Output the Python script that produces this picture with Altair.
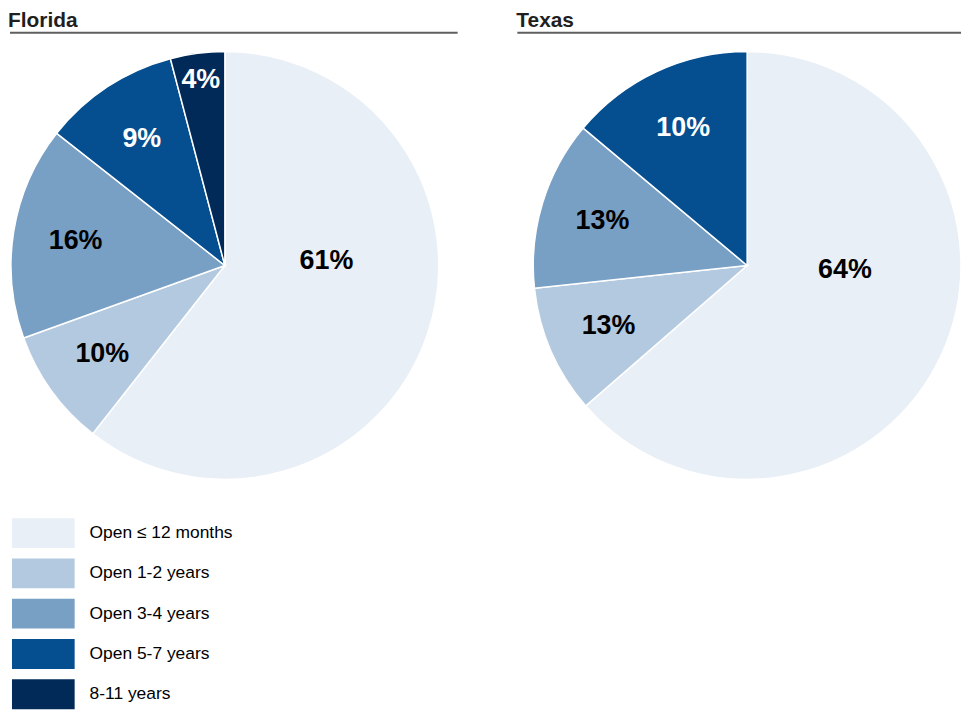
import altair as alt
import pandas as pd

FONT = "Liberation Sans, Arial, sans-serif"

categories = ["Open ≤ 12 months", "Open 1-2 years", "Open 3-4 years", "Open 5-7 years", "8-11 years"]
colors = ["#E9EFF6", "#B3C9DF", "#789FC4", "#054F91", "#022A58"]

# slice sizes as drawn, and the printed labels
florida_share = [60.6, 8.9, 16.1, 10.3, 4.1]
florida_label = ["61%", "10%", "16%", "9%", "4%"]
texas_share = [63.6, 9.7, 12.8, 13.9]
texas_label = ["64%", "13%", "13%", "10%"]

color_scale = alt.Scale(domain=categories, range=colors)


def panel(title, shares, labels, cx, w):
    n = len(shares)
    df = pd.DataFrame({"cat": categories[:n], "idx": list(range(n)),
                       "share": shares, "label": labels})
    base = alt.Chart(df).encode(
        theta=alt.Theta("share:Q", stack=True),
        order=alt.Order("idx:Q"),
        x=alt.value(cx), y=alt.value(234),
    )
    arcs = base.mark_arc(outerRadius=215, stroke="white", strokeWidth=1.5).encode(
        color=alt.Color("cat:N", scale=color_scale, legend=None)
    )
    tb = (alt.Chart(df)
          .transform_joinaggregate(total="sum(share)")
          .transform_window(cum="sum(share)", sort=[alt.SortField("idx")], frame=[None, 0])
          .transform_calculate(mid="(datum.cum - datum.share/2)/datum.total*2*PI"))
    tcol = alt.condition("datum.idx >= 3", alt.value("white"), alt.value("black"))
    enc = dict(theta=alt.Theta("mid:Q", scale=None), x=alt.value(cx), y=alt.value(234),
               text="label:N", color=tcol)
    kw = dict(font=FONT, fontSize=27, fontWeight="bold", align="center", baseline="middle")
    big = tb.transform_filter("datum.idx == 0").mark_text(radius=108, dy=-40, **kw).encode(**enc)
    tiny = tb.transform_filter("datum.idx > 0 && datum.share < 6").mark_text(radius=188, **kw).encode(**enc)
    mid = tb.transform_filter("datum.idx > 0 && datum.share >= 6").mark_text(radius=152, **kw).encode(**enc)
    rule = alt.Chart(pd.DataFrame({"a": [0]})).mark_rule(color="#5f5f5f", strokeWidth=2).encode(
        x=alt.value(0), x2=alt.value(w), y=alt.value(0)
    )
    return alt.layer(rule, arcs, big, mid, tiny).properties(
        width=w, height=468,
        title=alt.Title(title, anchor="start", fontSize=21, font=FONT, fontWeight="bold",
                        color="#1f1f1f", offset=1),
    )


fl = panel("Florida", florida_share, florida_label, 216, 450)
tx = panel("Texas", texas_share, texas_label, 231, 446)

leg_df = pd.DataFrame({"cat": categories})
leg_base = alt.Chart(leg_df).encode(
    y=alt.Y("cat:N", sort=categories, axis=None,
            scale=alt.Scale(paddingInner=0.26, paddingOuter=0))
)
sw = leg_base.mark_rect().encode(
    x=alt.value(2), x2=alt.value(65),
    color=alt.Color("cat:N", scale=color_scale, legend=None),
)
lt = leg_base.mark_text(align="left", baseline="middle", fontSize=17.5, font=FONT,
                        color="black").encode(x=alt.value(80), text="cat:N")
legend = alt.layer(sw, lt).properties(width=300, height=192)

top = alt.hconcat(fl, tx, spacing=58)
chart = (alt.vconcat(top, legend, spacing=20,
                     padding={"left": 0, "top": 0, "right": 0, "bottom": 0})
         .configure_view(stroke=None))

chart.save("out.html", embed_options={"renderer": "svg", "actions": False})
